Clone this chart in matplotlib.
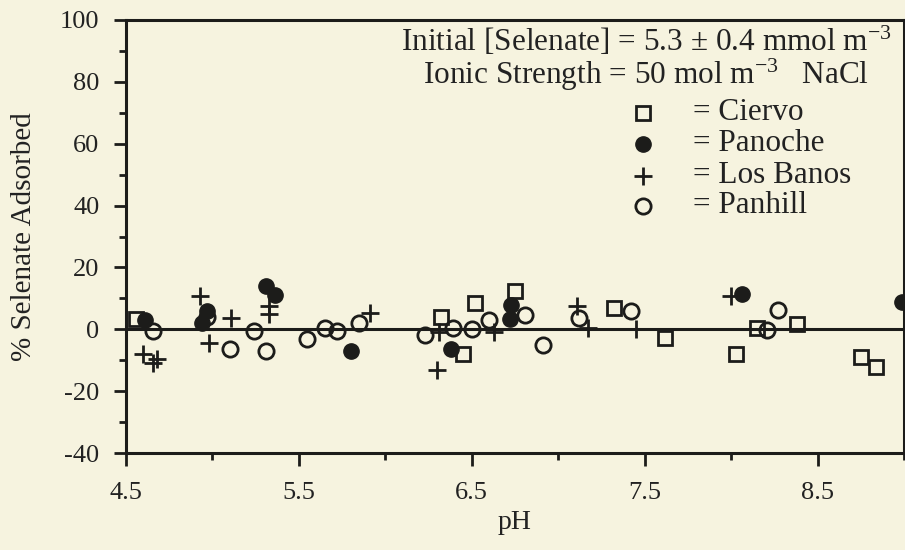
import matplotlib
matplotlib.use("Agg")
import matplotlib.pyplot as plt
from matplotlib.ticker import MultipleLocator

# Selenate adsorption vs pH for four soils
ciervo_ph = [4.56, 6.32, 6.45, 6.52, 6.75, 7.32, 7.62, 8.03, 8.15, 8.38, 8.75, 8.84]
ciervo_ads = [3.5, 4.0, -8.0, 8.4, 12.3, 6.8, -2.9, -8.0, 0.3, 1.6, -9.0, -12.0]

panoche_ph = [4.61, 4.94, 4.97, 5.31, 5.36, 5.80, 6.38, 6.72, 6.73, 8.06, 8.99]
panoche_ads = [3.0, 2.0, 6.0, 14.0, 11.0, -7.0, -6.5, 3.5, 8.0, 11.3, 9.0]

losbanos_ph = [4.60, 4.66, 4.68, 4.93, 4.98, 5.11, 5.33, 5.33, 5.91, 6.30,
               6.31, 6.63, 7.11, 7.17, 7.45, 8.00]
losbanos_ads = [-7.8, -11.0, -9.7, 10.7, -4.5, 3.6, 7.5, 5.0, 5.2, -13.0,
                -1.0, -1.0, 7.4, 0.5, 0.0, 10.7]

panhill_ph = [4.66, 4.97, 5.10, 5.24, 5.31, 5.55, 5.65, 5.72, 5.85, 6.23,
              6.39, 6.50, 6.60, 6.81, 6.91, 7.12, 7.42, 8.21, 8.27]
panhill_ads = [-0.6, 4.0, -6.5, -0.6, -7.0, -3.0, 0.3, -0.6, 2.0, -1.7,
               0.3, 0.0, 3.0, 4.8, -4.9, 3.6, 5.8, -0.3, 6.4]

legend_names = ["Ciervo", "Panoche", "Los Banos", "Panhill"]
x_ticks = [4.5, 5.5, 6.5, 7.5, 8.5]
y_ticks = [-40, -20, 0, 20, 40, 60, 80, 100]

BG = "#f6f3df"
INK = "#1c1c1a"

plt.rcParams["font.family"] = ["Liberation Serif", "DejaVu Serif"]
plt.rcParams["mathtext.fontset"] = "custom"
plt.rcParams["mathtext.rm"] = "Liberation Serif"
plt.rcParams["mathtext.it"] = "Liberation Serif:italic"
plt.rcParams["axes.unicode_minus"] = False

fig = plt.figure(figsize=(9.05, 5.5), dpi=100, facecolor=BG)
ax = fig.add_axes([0.139, 0.176, 0.860, 0.788])
ax.set_facecolor(BG)

ax.axhline(0, color=INK, lw=2.2, zorder=1)

sq = dict(marker="s", ms=10, mfc="none", mec=INK, mew=2.0, ls="none", zorder=3)
fc = dict(marker="o", ms=11, mfc=INK, mec=INK, mew=1.0, ls="none", zorder=3)
pl = dict(marker="+", ms=13, mec=INK, mew=2.0, ls="none", zorder=3)
oc = dict(marker="o", ms=11, mfc="none", mec=INK, mew=2.0, ls="none", zorder=3)

ax.plot(ciervo_ph, ciervo_ads, **sq)
ax.plot(panoche_ph, panoche_ads, **fc)
ax.plot(losbanos_ph, losbanos_ads, **pl)
ax.plot(panhill_ph, panhill_ads, **oc)

ax.set_xlim(4.5, 9.0)
ax.set_ylim(-40, 100)
ax.set_xticks(x_ticks)
ax.set_xticklabels([f"{v:.1f}" for v in x_ticks])
ax.set_yticks(y_ticks)
ax.xaxis.set_minor_locator(MultipleLocator(0.5))
ax.yaxis.set_minor_locator(MultipleLocator(10))

for s in ax.spines.values():
    s.set_linewidth(2.2)
    s.set_color(INK)

ax.tick_params(which="major", direction="out", length=9, width=2, colors=INK,
               labelsize=19, labelcolor="#222")
ax.tick_params(axis="x", which="major", pad=12)
ax.tick_params(axis="y", which="major", pad=10)
ax.tick_params(which="minor", direction="out", length=5, width=2, colors=INK)

ax.set_xlabel("pH", fontsize=20, color="#222", labelpad=4)
ax.set_ylabel("% Selenate Adsorbed", fontsize=21, color="#222", va="center")
ax.yaxis.set_label_coords(-0.131, 0.5)

# header text and hand-drawn key
ax.text(7.51, 87.3,
        "Initial [Selenate] = 5.3 ± 0.4 mmol m$^{-3}$\n"
        "Ionic Strength = 50 mol m$^{-3}$   NaCl",
        ha="center", va="center", multialignment="center",
        fontsize=22.5, color="#222", linespacing=0.95)

key_y = [70.0, 60.0, 49.7, 40.0]
key_styles = [sq, fc, pl, oc]
for name, ky, st in zip(legend_names, key_y, key_styles):
    ax.plot([7.49], [ky], **st)
    ax.text(7.78, ky, "= " + name, ha="left", va="center", fontsize=22.5, color="#222")

fig.savefig("out.png", dpi=100, facecolor=BG)
